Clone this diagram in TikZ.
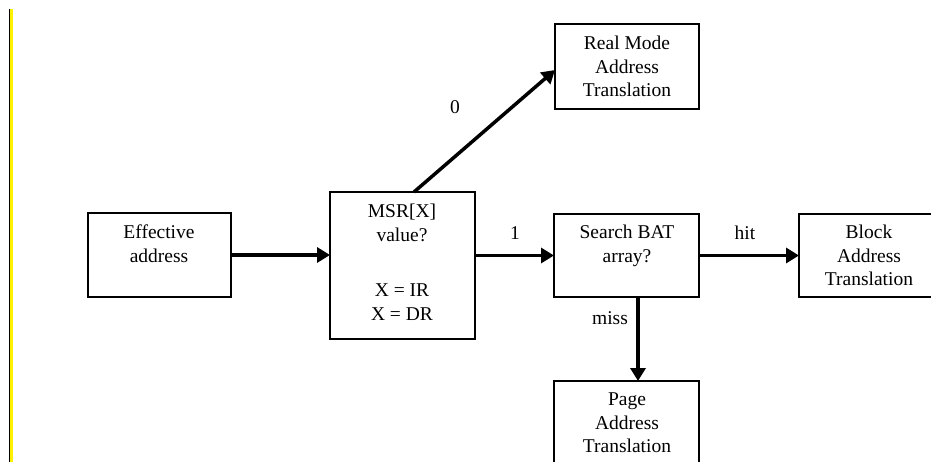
\documentclass[tikz,border=0pt]{standalone}
\usepackage{fontspec}
\setmainfont{Liberation Serif}
\usetikzlibrary{arrows.meta}
\begin{document}
\begin{tikzpicture}[x=1pt,y=-1pt,
  box/.style={draw=black,line width=1.5pt,inner sep=0pt,outer sep=0pt},
  txt/.style={font=\fontsize{19.5}{23.5}\selectfont,align=center,inner sep=0pt,anchor=north},
  lbl/.style={font=\fontsize{19.5}{23.5}\selectfont,inner sep=0pt},
  arr/.style={line width=3.5pt,-{Triangle[length=13pt,width=15pt]}}]
\useasboundingbox (0,0) rectangle (931,462);
\fill[white] (0,0) rectangle (931,462);
% left margin bar
\fill[black] (9,9) rectangle (10.3,462);
\fill[yellow] (10.3,9) rectangle (13,462);
% boxes
\node[box,minimum width=143pt,minimum height=84pt] (eff) at (159.5,255) {};
\node[box,minimum width=145pt,minimum height=147pt] (msr) at (402.5,265.5) {};
\node[box,minimum width=144pt,minimum height=85pt] (real) at (627,66.5) {};
\node[box,minimum width=145pt,minimum height=83pt] (bat) at (626.5,255.5) {};
\node[box,minimum width=144pt,minimum height=83pt] (block) at (871,255.5) {};
\node[box,minimum width=145pt,minimum height=84pt] (page) at (626.5,423) {};
% texts
\node[txt] (efft) at (159,225) {Effective\\address};
\node[txt] (msrt) at (402,204) {MSR[X]\\value?};
\node[txt] (msrb) at (402,284) {X = IR\\X = DR};
\node[txt] (realt) at (627,36) {Real Mode\\Address\\Translation};
\node[txt] (batt) at (627,225) {Search BAT\\array?};
\node[txt] (blockt) at (869,225) {Block\\Address\\Translation};
\node[txt] (paget) at (627,393) {Page\\Address\\Translation};
% connectors
\draw[arr] (eff.east) -- (msr.west |- eff.east);
\draw[arr] (msr.east |- bat.west) -- (bat.west);
\draw[arr] (bat.east) -- (block.west);
\draw[arr] ([xshift=11.5pt]bat.south) -- ([xshift=11.5pt]page.north);
\draw[arr] ([xshift=11.5pt]msr.north) -- ([yshift=-3.5pt]real.west);
% labels
\node[lbl] (l0) at (455,107) {0};
\node[lbl] (l1) at (515,233) {1};
\node[lbl] (lhit) at (745,233) {hit};
\node[lbl] (lmiss) at (610,318) {miss};
\end{tikzpicture}
\end{document}
